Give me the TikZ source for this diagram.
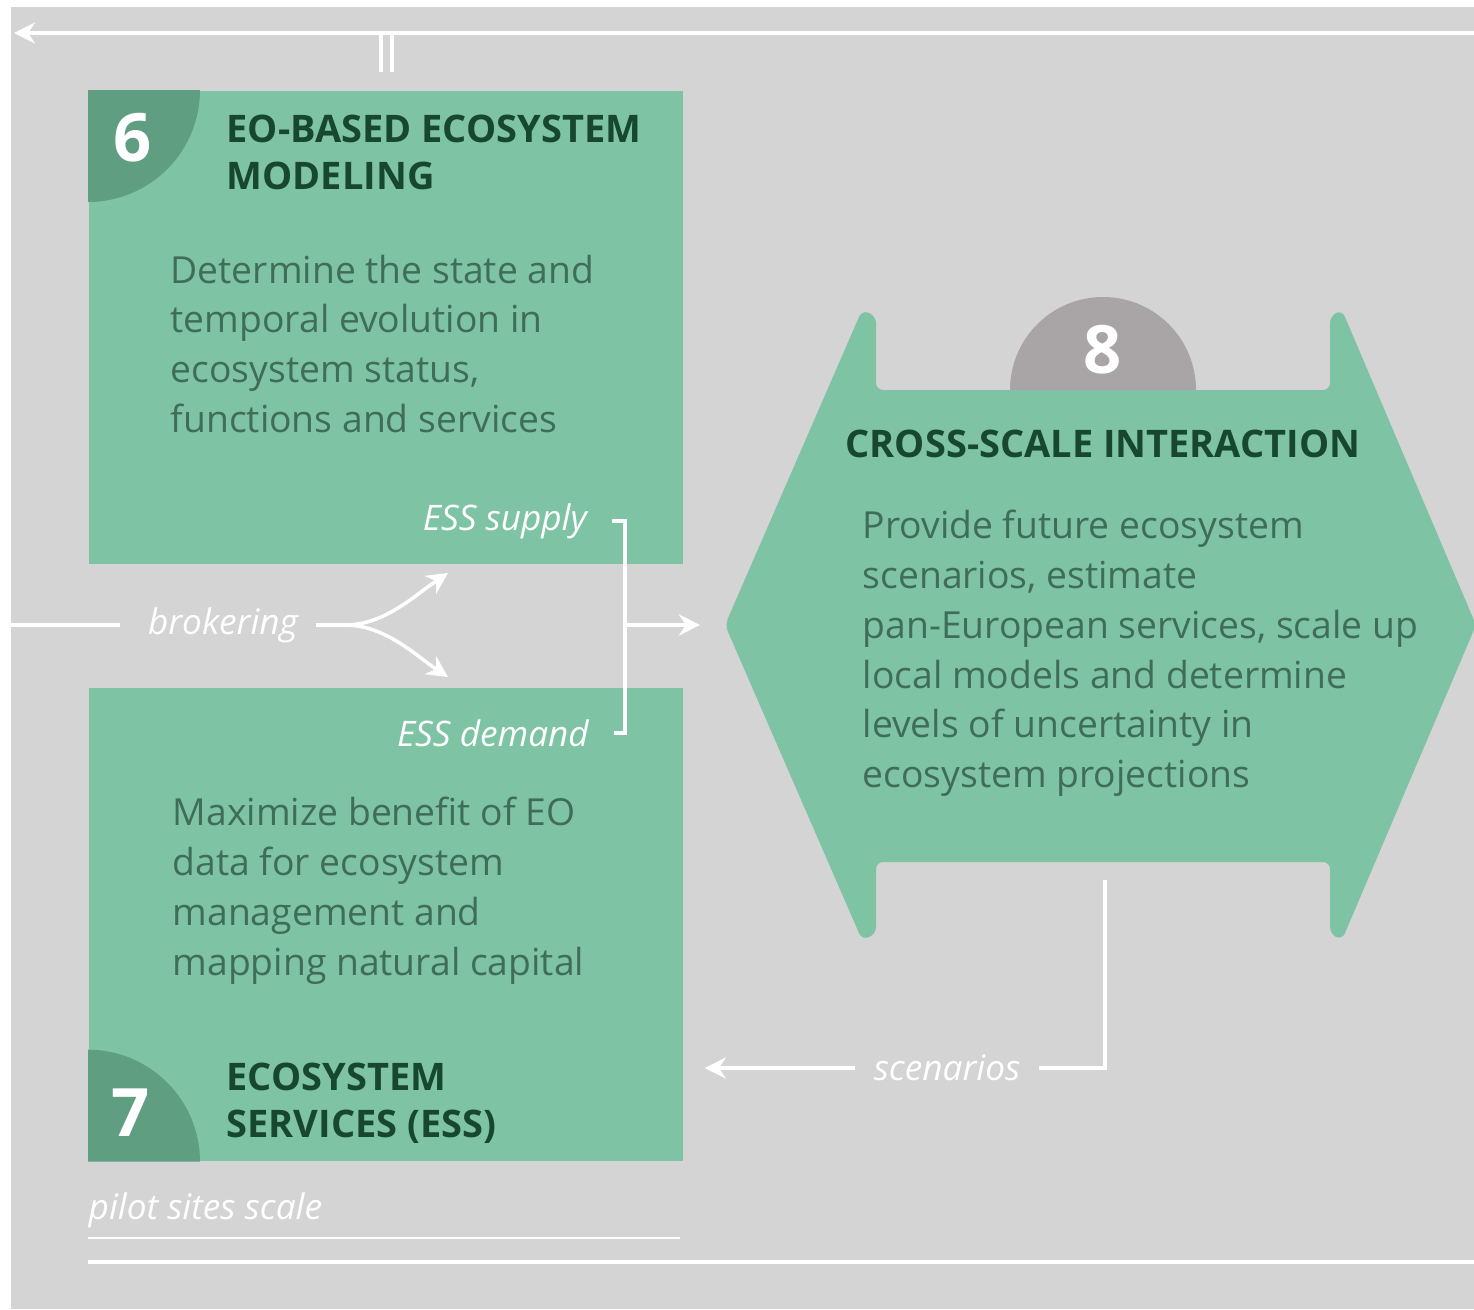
\documentclass[tikz,border=0pt]{standalone}
\usepackage{fontspec}
\setmainfont{Open Sans}
\usetikzlibrary{positioning,arrows.meta}

\definecolor{panelgray}{HTML}{D4D4D4}
\definecolor{boxgreen}{HTML}{7EC4A4}
\definecolor{cornergreen}{HTML}{5F9E81}
\definecolor{headgreen}{HTML}{17472F}
\definecolor{bodygreen}{HTML}{3F6D58}
\definecolor{numgray}{HTML}{A9A5A6}

\tikzset{
    box/.style={
        rectangle,
        fill=boxgreen,
        anchor=north west,
        minimum width=5.94cm,
        minimum height=4.73cm
    },
    head/.style={
        anchor=north west,
        inner sep=0pt,
        align=left,
        text=headgreen,
        font=\fontsize{10.8}{13.4}\selectfont\bfseries
    },
    body/.style={
        anchor=north west,
        inner sep=0pt,
        align=left,
        text=bodygreen,
        font=\fontsize{10.6}{14.2}\selectfont
    },
    num/.style={
        text=white,
        font=\fontsize{19}{19}\selectfont\bfseries
    },
    tag/.style={
        text=white,
        inner xsep=5pt,
        font=\fontsize{10}{12}\selectfont\itshape
    },
    rule/.style={
        draw=white,
        line width=1pt
    },
    flow/.style={
        rule,
        -{Stealth[length=6pt,width=6pt]}
    }
}

\begin{document}
\begin{tikzpicture}[x=0.01cm, y=-0.01cm]
    \fill[white] (0,0) rectangle (1474,1309);
    \fill[panelgray] (11,7) rectangle (1474,1309);
    \useasboundingbox (0,0) rectangle (1474,1309);

    % scale rule on top
    \coordinate (topright) at (1474,33);
    \coordinate (topleft) at (14,33);
    \draw[flow] (topright) -- (topleft);
    \draw[rule] (381,33) -- (381,72);
    \draw[rule] (392,33) -- (392,72);

    % 6: modeling
    \node[box] (box6) at (88,90) {};
    \fill[cornergreen] (box6.north west) -- ++(112,0) arc[start angle=0, end angle=90, radius=112] -- cycle;
    \node[num] (n6) at (133,138) {6};
    \node[head] (head6) at (226,114) {EO-BASED ECOSYSTEM\\MODELING};
    \node[body] (body6) at (170,254) {Determine the state and\\temporal evolution in\\ecosystem status,\\functions and services};
    \node[tag, anchor=east] (supply) at (605,521) {ESS supply};

    % 7: services
    \node[box] (box7) at (88,687) {};
    \fill[cornergreen] (box7.south west) -- ++(0,-112) arc[start angle=270, end angle=360, radius=112] -- cycle;
    \node[num] (n7) at (131,1113) {7};
    \node[head] (head7) at (226,1062) {ECOSYSTEM\\SERVICES (ESS)};
    \node[body] (body7) at (172,796) {Maximize benefit of EO\\data for ecosystem\\management and\\mapping natural capital};
    \node[tag, anchor=east] (demand) at (607,733) {ESS demand};

    % 8: double arrow
    \fill[boxgreen, rounded corners=2pt] (725,625) -- (862,310) -- (876,316) -- (876,390) -- (1330,390) -- (1330,316)
        -- (1342,310) -- (1476,625) -- (1342,940) -- (1330,934) -- (1330,862) -- (876,862) -- (876,934) -- (862,940) -- cycle;
    \fill[numgray] (1010,390) arc[start angle=180, end angle=360, radius=93] -- cycle;
    \node[num] (n8) at (1103,350) {8};
    \node[head] (head8) at (845,429) {CROSS-SCALE INTERACTION};
    \node[body] (body8) at (862,509) {Provide future ecosystem\\scenarios, estimate\\pan-European services, scale up\\local models and determine\\levels of uncertainty in\\ecosystem projections};

    % brokering
    \coordinate (brokin) at (11,625);
    \coordinate (fork) at (345,625);
    \coordinate (tosupply) at (448,573);
    \coordinate (todemand) at (448,677);
    \node[tag] (brok) at (223,625) {brokering};
    \draw[rule, shorten >=1mm] (brokin) -- (brok.west);
    \draw[rule] (brok.east) -- (fork);
    \draw[flow] (fork) .. controls (385,625) and (415,595) .. (tosupply);
    \draw[flow] (fork) .. controls (385,625) and (415,655) .. (todemand);

    % supply and demand into 8
    \coordinate (join) at (625,625);
    \coordinate (hexleft) at (725,625);
    \draw[rule] ([xshift=0.7mm]supply.east) -| (join) |- ([xshift=0.7mm]demand.east);
    \draw[flow, shorten >=2.5mm] (join) -- (hexleft);

    % scenarios back to 7
    \coordinate (hexbot) at (1105,880);
    \node[tag] (scen) at (947,1068) {scenarios};
    \draw[rule] (hexbot) |- (scen.east);
    \draw[flow, shorten >=2.1mm] (scen.west) -- (box7.east |- scen.west);

    % bottom scale rules
    \node[tag, anchor=west, inner xsep=0pt] (pilot) at (88,1210) {pilot sites scale};
    \draw[rule, line width=0.7pt] (88,1238) -- (680,1238);
    \draw[rule] (88,1262) -- (1474,1262);
\end{tikzpicture}
\end{document}
